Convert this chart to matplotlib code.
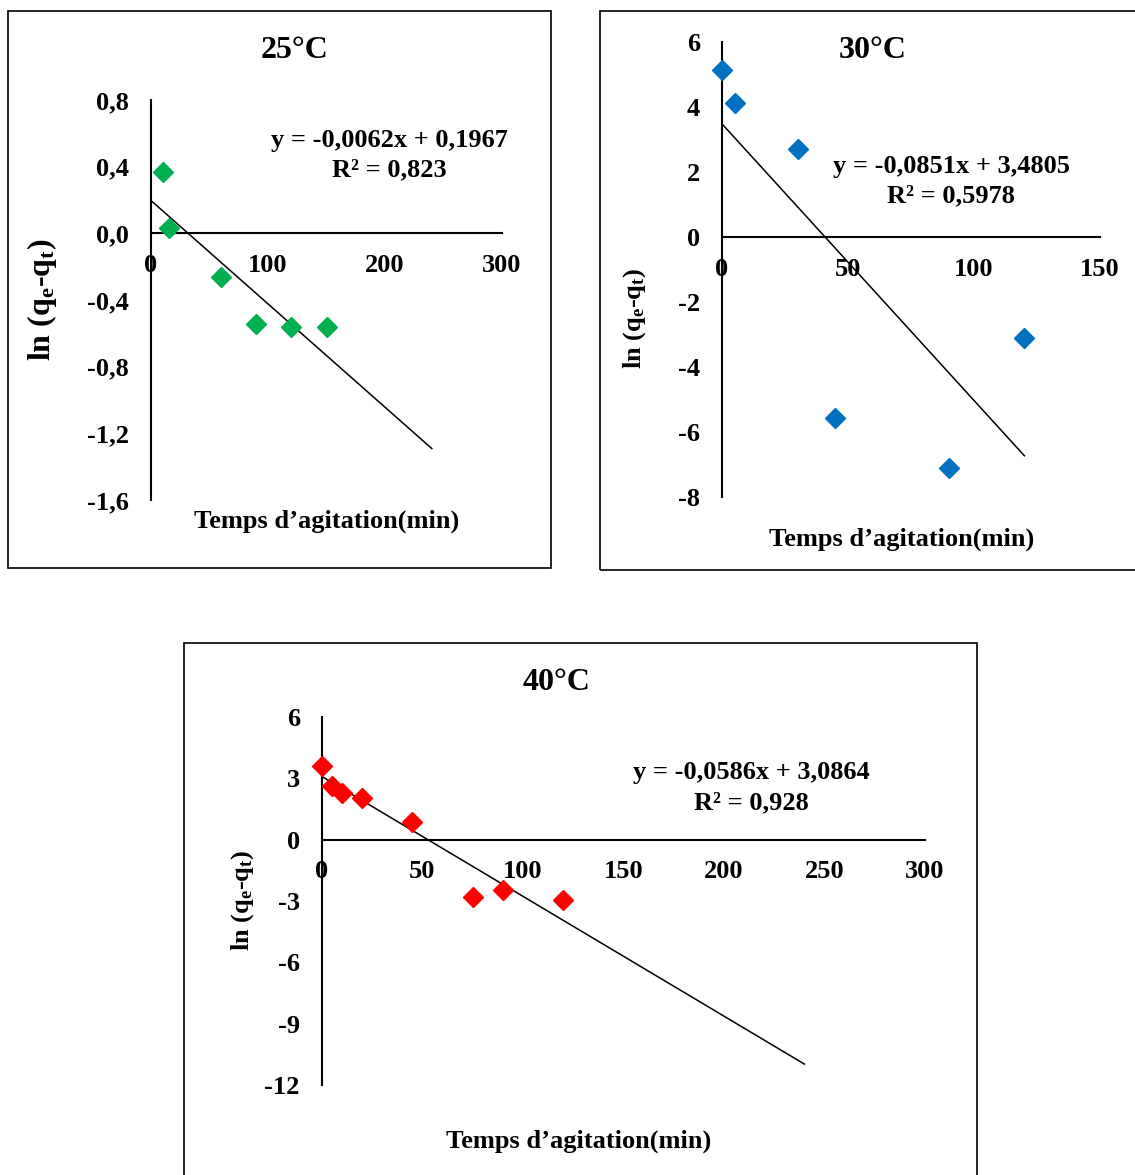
import matplotlib
matplotlib.use('Agg')
import matplotlib.pyplot as plt
from matplotlib.patches import Rectangle
import numpy as np

plt.rcParams['font.family'] = ['Liberation Serif', 'DejaVu Serif']
plt.rcParams['font.weight'] = 'bold'
plt.rcParams['mathtext.fontset'] = 'custom'
plt.rcParams['mathtext.rm'] = 'Liberation Serif:bold'
plt.rcParams['mathtext.bf'] = 'Liberation Serif:bold'
plt.rcParams['mathtext.it'] = 'Liberation Serif:bold'

# 25 °C
t25 = [10, 15, 60, 90, 120, 150]
ln25 = [0.37, 0.03, -0.265, -0.545, -0.56, -0.565]
fit25 = (-0.0062, 0.1967, 0.823)
xt25 = [0, 100, 200, 300]
yt25 = [0.8, 0.4, 0.0, -0.4, -0.8, -1.2, -1.6]
ytl25 = ['0,8', '0,4', '0,0', '-0,4', '-0,8', '-1,2', '-1,6']

# 30 °C
t30 = [0, 5, 30, 45, 90, 120]
ln30 = [5.14, 4.12, 2.71, -5.57, -7.1, -3.1]
fit30 = (-0.0851, 3.4805, 0.5978)
xt30 = [0, 50, 100, 150]
yt30 = [6, 4, 2, 0, -2, -4, -6, -8]

# 40 °C
t40 = [0, 5, 10, 20, 45, 75, 90, 120]
ln40 = [3.6, 2.63, 2.27, 2.06, 0.85, -2.8, -2.45, -2.97]
fit40 = (-0.0586, 3.0864, 0.928)
xt40 = [0, 50, 100, 150, 200, 250, 300]
yt40 = [6, 3, 0, -3, -6, -9, -12]

W, H = 1135, 1175
fig = plt.figure(figsize=(W / 100, H / 100), dpi=100)


def fx(px):
    return px / W


def fy(py):
    return 1 - py / H


def frame(x0, y0, x1, y1):
    fig.add_artist(Rectangle((fx(x0), fy(y1)), (x1 - x0) / W, (y1 - y0) / H,
                             transform=fig.transFigure, fill=False,
                             edgecolor='black', linewidth=1.2))


def panel(box, xlim, ylim, t, ln, fit, line_end, color, xt, yt, ytl):
    l, top, r, b = box
    ax = fig.add_axes([fx(l), fy(b), (r - l) / W, (b - top) / H])
    ax.set_xlim(*xlim)
    ax.set_ylim(*ylim)
    ax.patch.set_alpha(0)
    for s in ['top', 'right']:
        ax.spines[s].set_visible(False)
    ax.spines['bottom'].set_position(('data', 0))
    ax.spines['bottom'].set_linewidth(1.5)
    ax.spines['left'].set_linewidth(1.5)
    ax.set_xticks(xt)
    ax.set_xticklabels([str(v) for v in xt])
    ax.set_yticks(yt)
    ax.set_yticklabels(ytl if ytl else [str(v) for v in yt])
    ax.tick_params(axis='x', length=0, pad=15, labelsize=19)
    ax.tick_params(axis='y', length=0, pad=16, labelsize=19)
    slope, icpt, r2 = fit
    xs = np.array([0, line_end])
    ax.plot(xs, slope * xs + icpt, color='black', linewidth=1.1, zorder=2)
    ax.plot(t, ln, linestyle='none', marker='D', markersize=10,
            color=color, clip_on=False, zorder=3)
    return ax


frame(8, 11, 551, 568)
frame(600, 11, 1140, 570)
frame(184, 643, 977, 1180)

panel((151, 100, 502, 500), (0, 300), (-1.6, 0.8), t25, ln25, fit25, 240,
      '#00B050', xt25, yt25, ytl25)
panel((722, 42, 1100, 497), (0, 150), (-8, 6), t30, ln30, fit30, 120,
      '#0070C0', xt30, yt30, None)
panel((322, 717, 925, 1085), (0, 300), (-12, 6), t40, ln40, fit40, 240,
      '#FF0000', xt40, yt40, None)

titles = ['25°C', '30°C', '40°C']
title_pos = [(295, 50), (873, 50), (557, 683)]
for s, (px, py) in zip(titles, title_pos):
    fig.text(fx(px), fy(py), s, ha='center', va='center', fontsize=23,
             fontweight='bold')

fits = [fit25, fit30, fit40]
eq_pos = [(389, 140), (951, 166), (751, 773)]
for (slope, icpt, r2), (px, py) in zip(fits, eq_pos):
    eq = 'y = {}x + {}'.format(f'{slope:.4f}'.replace('.', ','),
                               f'{icpt:.4f}'.replace('.', ','))
    r2s = 'R² = ' + f'{r2:g}'.replace('.', ',')
    fig.text(fx(px), fy(py), eq, ha='center', va='center', fontsize=19,
             fontweight='bold')
    fig.text(fx(px), fy(py + 30), r2s, ha='center', va='center', fontsize=19,
             fontweight='bold')

xlab_pos = [(327, 521), (902, 539), (579, 1141)]
for px, py in xlab_pos:
    fig.text(fx(px), fy(py), 'Temps d’agitation(min)', ha='center',
             va='center', fontsize=19, fontweight='bold')

ylab = r'ln (q$_\mathbf{e}$-q$_\mathbf{t}$)'
ylab_pos = [(42, 300, 23), (635, 318, 19), (243, 900, 19)]
for px, py, fs in ylab_pos:
    fig.text(fx(px), fy(py), ylab, ha='center', va='center', rotation=90,
             fontsize=fs, fontweight='bold')

fig.savefig('out.png', dpi=100)
